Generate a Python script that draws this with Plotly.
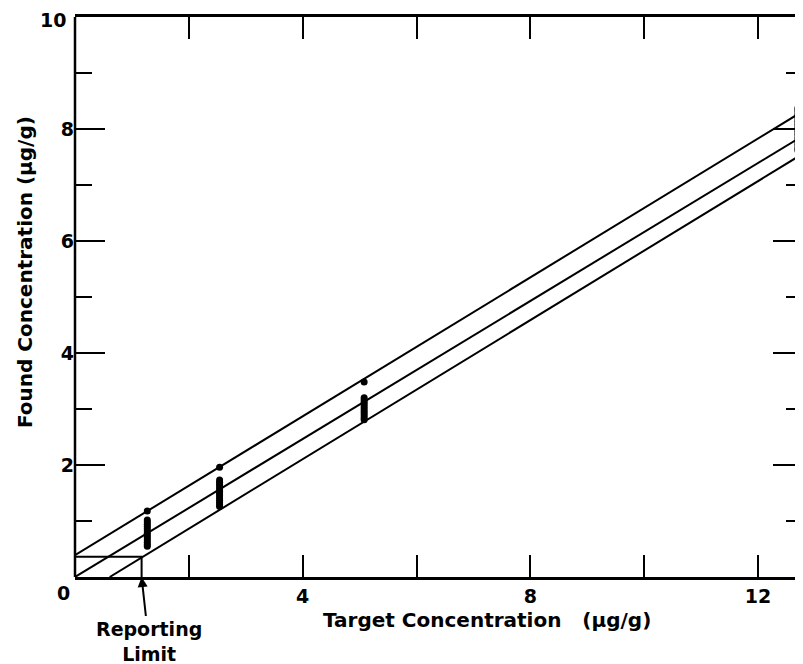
import plotly.graph_objects as go

# ---- data ----
target_levels = [1.27, 2.54, 5.08, 12.7]
found_1 = [1.18, 1.02, 0.98, 0.94, 0.90, 0.86, 0.82, 0.78, 0.74, 0.70, 0.66, 0.62, 0.58, 0.55]
found_2 = [1.96, 1.73, 1.69, 1.65, 1.61, 1.57, 1.53, 1.49, 1.45, 1.41, 1.37, 1.33, 1.29, 1.26]
found_3 = [3.48, 3.20, 3.16, 3.12, 3.08, 3.04, 3.00, 2.96, 2.92, 2.88, 2.84, 2.81]
found_4 = [8.37, 8.32, 8.26, 8.20, 8.14, 8.08, 8.02, 7.96, 7.90, 7.84, 7.78, 7.72, 7.66, 7.62]

upper_x = [0, 12.79]
upper_y = [0.39, 8.32]
middle_x = [0, 12.79]
middle_y = [0, 7.88]
lower_x = [0.61, 12.79]
lower_y = [0, 7.56]

reporting_limit_x = 1.17
reporting_limit_y = 0.36

x_tickvals = [0, 2, 4, 6, 8, 10, 12]
x_ticktext = ["", "", "4", "", "8", "", "12"]
y_tickvals = [0, 2, 4, 6, 8, 10]
y_ticktext = ["", "2", "4", "6", "8", ""]
y_minor = [1, 3, 5, 7, 9]

FONT = "DejaVu Sans"
BLACK = "#000000"

fig = go.Figure()

for xs, ys in [(upper_x, upper_y), (middle_x, middle_y), (lower_x, lower_y)]:
    fig.add_trace(go.Scatter(x=xs, y=ys, mode="lines",
                             line=dict(color=BLACK, width=2), showlegend=False,
                             hoverinfo="skip"))

# reporting limit box
fig.add_trace(go.Scatter(x=[0, reporting_limit_x, reporting_limit_x],
                         y=[reporting_limit_y, reporting_limit_y, 0],
                         mode="lines", line=dict(color=BLACK, width=2),
                         showlegend=False, hoverinfo="skip"))

for xv, ys in zip(target_levels, [found_1, found_2, found_3, found_4]):
    fig.add_trace(go.Scatter(x=[xv] * len(ys), y=ys, mode="markers",
                             marker=dict(color=BLACK, size=7, line=dict(width=0)),
                             showlegend=False, cliponaxis=False))

fig.update_layout(
    width=795, height=656,
    margin=dict(l=67, r=0, t=9, b=87),
    paper_bgcolor="white", plot_bgcolor="white",
    font=dict(family=FONT, color=BLACK, size=18),
    xaxis=dict(range=[0, 12.79], tickmode="array", tickvals=x_tickvals,
               ticktext=x_ticktext, ticks="inside", ticklen=22, tickwidth=2,
               tickcolor=BLACK, showline=True, linecolor=BLACK, linewidth=2.5,
               mirror="ticks", showgrid=False, zeroline=False,
               tickfont=dict(family=FONT, size=19, color=BLACK, weight="bold")),
    yaxis=dict(range=[0, 10], tickmode="array", tickvals=y_tickvals,
               ticktext=y_ticktext, ticks="inside", ticklen=30, tickwidth=2,
               tickcolor=BLACK, showline=False, mirror="ticks",
               showgrid=False, zeroline=False,
               minor=dict(tickmode="array", tickvals=y_minor, ticks="inside",
                          ticklen=17, tickwidth=2, tickcolor=BLACK, showgrid=False),
               tickfont=dict(family=FONT, size=19, color=BLACK, weight="bold")),
)

# left axis line (no line on the cropped right edge)
fig.add_shape(type="line", xref="paper", yref="paper", x0=0, x1=0, y0=0, y1=1,
              line=dict(color=BLACK, width=2.5))

tick_font = dict(family=FONT, size=19, color=BLACK, weight="bold")
fig.add_annotation(x=0, y=0, xref="x", yref="y", text="0", showarrow=False,
                   xshift=-12, yshift=-16, xanchor="center", yanchor="middle",
                   font=tick_font)
fig.add_annotation(x=0, y=10, xref="x", yref="y", text="10", showarrow=False,
                   xshift=-7, yshift=-3, xanchor="right", yanchor="middle",
                   font=tick_font)

fig.add_annotation(xref="paper", yref="paper", x=0.5666, y=-0.0768,
                   xanchor="center", yanchor="middle",
                   text="Target Concentration\u00a0\u00a0\u00a0(\u03bcg/g)",
                   showarrow=False,
                   font=dict(family=FONT, size=20, color=BLACK, weight="bold"))
fig.add_annotation(xref="paper", yref="paper", x=-0.0687, y=0.5446,
                   xanchor="center", yanchor="middle",
                   text="Found Concentration (\u03bcg/g)", textangle=-90,
                   showarrow=False,
                   font=dict(family=FONT, size=20, color=BLACK, weight="bold"))

fig.add_annotation(x=reporting_limit_x, y=0, xref="x", yref="y",
                   text="Reporting<br>Limit", showarrow=True,
                   arrowhead=2, arrowsize=1, arrowwidth=2, arrowcolor=BLACK,
                   ax=7, ay=64,
                   font=dict(family=FONT, size=19, color=BLACK, weight="bold"))

fig.write_html("out.html")
